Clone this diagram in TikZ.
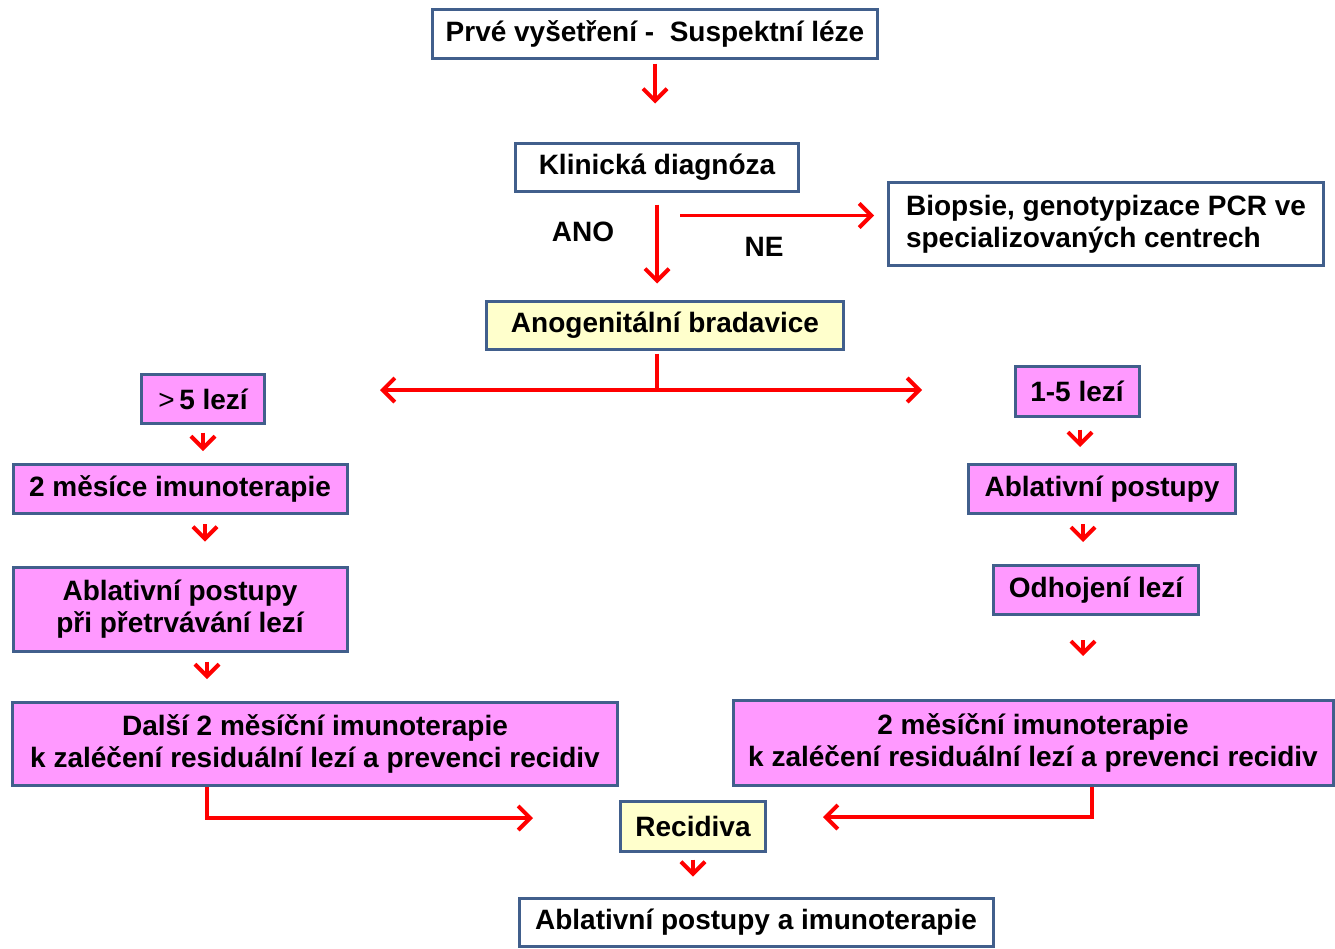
\documentclass[tikz,border=0pt]{standalone}
\usepackage{fontspec}
\setmainfont{Liberation Sans}
\usetikzlibrary{arrows.meta,positioning,calc}
\definecolor{ramec}{RGB}{65,95,140}
\definecolor{ruzova}{RGB}{255,153,255}
\definecolor{zluta}{RGB}{255,255,204}

\begin{document}
\begin{tikzpicture}[x=1pt, y=-1pt, on grid, font=\fontsize{28}{32}\selectfont\bfseries,
	blok/.style={draw=ramec, line width=3pt, fill=white, inner sep=0pt, align=center},
	ruzovy/.style={blok, fill=ruzova},
	zluty/.style={blok, fill=zluta},
	sip/.style={draw=red, line width=3.5pt, -{Straight Barb[length=12pt,width=24pt,line width=4pt]}}]
	\useasboundingbox (0,0) rectangle (1335,948);

	\node	(prve)		[blok, minimum width=445pt, minimum height=49pt] at (655,34)	{Prvé vyšetření -\ \ Suspektní léze};
	\node	(klin)		[blok, minimum width=283pt, minimum height=48pt, below=133pt of prve, xshift=2pt]	{Klinická diagnóza};
	\node	(biop)		[blok, minimum width=435pt, minimum height=83pt, align=left, right=449pt of klin, yshift=-57pt]	{Biopsie, genotypizace PCR ve\\specializovaných centrech};
	\node	(bradavice)	[zluty, minimum width=357pt, minimum height=48pt, below=158pt of klin, xshift=8pt]	{Anogenitální bradavice};
	\node	(lano)		at (583,232)	{ANO};
	\node	(lne)		at (764,247)	{NE};

	% leva vetev
	\node	(gt5)		[ruzovy, minimum width=123pt, minimum height=49pt, below=74pt of bradavice, xshift=-462pt]	{{\mdseries >}\,5 lezí};
	\node	(m2)		[ruzovy, minimum width=334pt, minimum height=49pt, below=90pt of gt5, xshift=-23pt]	{2 měsíce imunoterapie};
	\node	(abl1)		[ruzovy, minimum width=334pt, minimum height=84pt, below=120pt of m2]	{Ablativní postupy\\při přetrvávání lezí};
	\node	(dalsi)		[ruzovy, minimum width=605pt, minimum height=83pt, below=135pt of abl1, xshift=135pt]	{Další 2 měsíční imunoterapie\\k zaléčení residuální lezí a prevenci recidiv};

	% prava vetev
	\node	(one5)		[ruzovy, minimum width=124pt, minimum height=50pt, below=66pt of bradavice, xshift=412pt]	{1-5 lezí};
	\node	(abl2)		[ruzovy, minimum width=267pt, minimum height=49pt, below=98pt of one5, xshift=25pt]	{Ablativní postupy};
	\node	(odh)		[ruzovy, minimum width=205pt, minimum height=49pt, below=101pt of abl2, xshift=-6pt]	{Odhojení lezí};
	\node	(m2r)		[ruzovy, minimum width=600pt, minimum height=85pt, below=153pt of odh, xshift=-63pt]	{2 měsíční imunoterapie\\k zaléčení residuální lezí a prevenci recidiv};

	\node	(rec)		[zluty, minimum width=145pt, minimum height=50pt, below=501pt of bradavice, xshift=28pt]	{Recidiva};
	\node	(fin)		[blok, minimum width=474pt, minimum height=48pt, below=96pt of rec, xshift=63pt]	{Ablativní postupy a imunoterapie};

	\coordinate (ne)	at ($(klin.south)+(23,23)$);
	\coordinate (rozc)	at (657,390);
	\coordinate (vlevo)	at (380,390);
	\coordinate (vpravo)	at (922,390);
	\coordinate (lin)	at ($(rec.west)+(-86,-8)$);
	\coordinate (rin)	at ($(rec.east)+(56,-9)$);

	\draw [sip, shorten <=3.5pt, shorten >=38pt]	(prve.south) -- (prve.south |- klin.north);
	\draw [sip, shorten <=12pt, shorten >=16pt]	(klin.south) -- (klin.south |- bradavice.north);
	\draw [sip, shorten >=13pt]	(ne) -- (ne -| biop.west);

	\draw [red, line width=3.5pt, shorten <=3pt]	(rozc |- bradavice.south) -- (rozc);
	\draw [sip]	(rozc) -- (vlevo);
	\draw [sip]	(rozc) -- (vpravo);

	\draw [sip, shorten <=7.5pt, shorten >=12pt]	(gt5.south) -- (gt5.south |- m2.north);
	\draw [sip, shorten <=9pt, shorten >=24pt]	([xshift=25pt]m2.south) -- ([xshift=25pt]m2.south |- abl1.north);
	\draw [sip, shorten <=9pt, shorten >=22pt]	([xshift=27pt]abl1.south) -- ([xshift=27pt]abl1.south |- dalsi.north);

	\draw [sip, shorten <=12pt, shorten >=16pt]	([xshift=3pt]one5.south) -- ([xshift=3pt]one5.south |- abl2.north);
	\draw [sip, shorten <=9pt, shorten >=22pt]	([xshift=-19pt]abl2.south) -- ([xshift=-19pt]abl2.south |- odh.north);
	\draw [sip, shorten <=24pt, shorten >=43pt]	([xshift=-13pt]odh.south) -- ([xshift=-13pt]odh.south |- m2r.north);

	\draw [sip]	([xshift=-108pt]dalsi.south) |- (lin);
	\draw [sip]	([xshift=59pt]m2r.south) |- (rin);
	\draw [sip, shorten <=7pt, shorten >=20pt]	(rec.south) -- (rec.south |- fin.north);

\end{tikzpicture}
\end{document}
